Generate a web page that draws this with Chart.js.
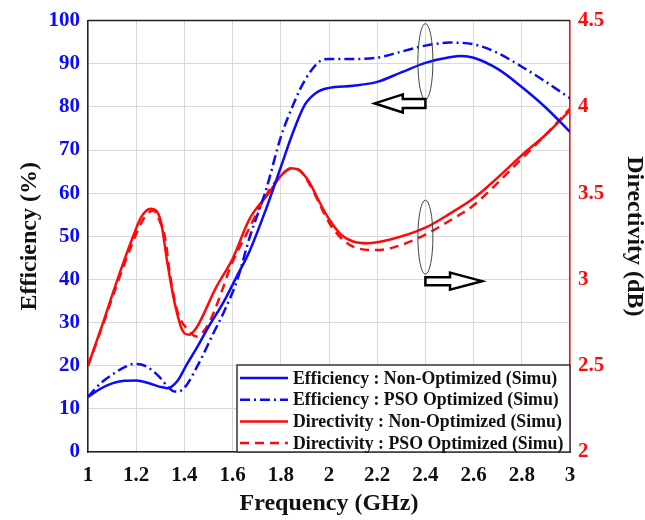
<!DOCTYPE html>
<html>
<head>
<meta charset="utf-8">
<script src="https://cdn.jsdelivr.net/npm/chart.js@4.4.1/dist/chart.umd.min.js"></script>
<style>
  body { margin: 0; background: #fff; }
  #wrap { width: 645px; height: 520px; }
</style>
</head>
<body>
<div id="wrap"><canvas id="effChart" width="645" height="520"></canvas></div>
<script>
// Frequency points (GHz) and values
const effNonFreq = [1.00, 1.05, 1.10, 1.15, 1.20, 1.25, 1.30, 1.33, 1.37, 1.41, 1.45, 1.50, 1.56, 1.62, 1.67, 1.74, 1.80, 1.85, 1.90, 1.95, 2.00, 2.10, 2.20, 2.30, 2.40, 2.50, 2.55, 2.60, 2.70, 2.80, 2.90, 3.00];
const effNon = [12.8, 14.6, 15.9, 16.5, 16.6, 16.0, 15.1, 14.8, 16.4, 20.3, 24.0, 29.0, 34.5, 41.0, 46.5, 56.5, 66.0, 74.0, 80.5, 83.4, 84.4, 84.9, 85.8, 88.0, 90.2, 91.5, 91.8, 91.4, 88.8, 84.6, 79.8, 74.2];

const effPsoFreq = [1.00, 1.05, 1.10, 1.15, 1.19, 1.22, 1.26, 1.30, 1.33, 1.36, 1.38, 1.41, 1.45, 1.48, 1.52, 1.56, 1.62, 1.67, 1.74, 1.80, 1.85, 1.90, 1.96, 2.00, 2.10, 2.20, 2.30, 2.40, 2.50, 2.60, 2.70, 2.80, 2.90, 3.00];
const effPso = [12.8, 15.8, 17.9, 19.6, 20.4, 20.3, 19.2, 17.2, 15.2, 14.0, 14.1, 15.6, 19.5, 22.8, 27.5, 32.0, 40.0, 49.6, 61.0, 73.0, 80.3, 86.2, 90.5, 91.1, 91.1, 91.4, 92.8, 94.2, 94.9, 94.5, 92.5, 89.3, 85.8, 82.0];

const dirNonFreq = [1.00, 1.06, 1.12, 1.19, 1.22, 1.26, 1.30, 1.33, 1.36, 1.39, 1.42, 1.45, 1.53, 1.60, 1.67, 1.75, 1.80, 1.84, 1.88, 1.92, 1.96, 2.00, 2.05, 2.10, 2.16, 2.25, 2.40, 2.50, 2.60, 2.70, 2.80, 2.90, 3.00];
const dirNon = [2.50, 2.74, 2.99, 3.26, 3.36, 3.41, 3.35, 3.09, 2.86, 2.71, 2.68, 2.72, 2.95, 3.12, 3.35, 3.50, 3.60, 3.645, 3.63, 3.56, 3.45, 3.35, 3.26, 3.22, 3.21, 3.23, 3.30, 3.38, 3.47, 3.59, 3.72, 3.84, 3.98];

const dirPsoFreq = [1.00, 1.06, 1.12, 1.19, 1.23, 1.27, 1.30, 1.32, 1.34, 1.37, 1.42, 1.45, 1.48, 1.51, 1.56, 1.59, 1.66, 1.74, 1.80, 1.85, 1.88, 1.92, 1.96, 2.00, 2.05, 2.10, 2.20, 2.30, 2.40, 2.50, 2.60, 2.70, 2.80, 2.90, 3.00];
const dirPso = [2.50, 2.73, 2.97, 3.23, 3.35, 3.40, 3.33, 3.24, 3.03, 2.82, 2.70, 2.67, 2.70, 2.77, 2.95, 3.07, 3.27, 3.49, 3.60, 3.645, 3.63, 3.55, 3.44, 3.33, 3.24, 3.19, 3.17, 3.20, 3.26, 3.34, 3.43, 3.56, 3.70, 3.84, 3.99];

const seriesLabels = [
  "Efficiency : Non-Optimized (Simu)",
  "Efficiency : PSO Optimized (Simu)",
  "Directivity : Non-Optimized (Simu)",
  "Directivity : PSO Optimized (Simu)"
];

const BLUE = "#0a0aff";
const RED = "#ff0a0a";
const SERIF = "'Liberation Serif', 'Times New Roman', serif";

function pairs(xs, ys) {
  return xs.map((x, i) => ({ x: x, y: ys[i] }));
}

function fmt(v) {
  return String(Math.round(v * 10) / 10);
}

// legend box in the lower right corner of the plot
const boxLegend = {
  id: "boxLegend",
  afterDatasetsDraw(chart) {
    const ctx = chart.ctx;
    const area = chart.chartArea;
    const w = 333, h = 87;
    const left = area.right - w, top = area.bottom - h;
    ctx.save();
    ctx.fillStyle = "#fff";
    ctx.fillRect(left, top, w, h);
    ctx.strokeStyle = "#333";
    ctx.lineWidth = 1.5;
    ctx.strokeRect(left, top, w, h);
    ctx.font = "bold 17.8px " + SERIF;
    ctx.textBaseline = "middle";
    chart.data.datasets.forEach((ds, i) => {
      const y = top + 13 + i * 21.7;
      ctx.strokeStyle = ds.borderColor;
      ctx.lineWidth = 2.5;
      ctx.setLineDash(ds.borderDash || []);
      ctx.beginPath();
      ctx.moveTo(left + 3, y);
      ctx.lineTo(left + 51, y);
      ctx.stroke();
      ctx.setLineDash([]);
      ctx.fillStyle = "#111";
      ctx.fillText(ds.label, left + 56, y + 1);
    });
    ctx.restore();
  }
};

// top frame line, ellipses and arrows
const marks = {
  id: "marks",
  afterDatasetsDraw(chart) {
    const ctx = chart.ctx;
    const area = chart.chartArea;
    const sx = chart.scales.x, sy = chart.scales.y, sy1 = chart.scales.y1;
    ctx.save();
    ctx.strokeStyle = "#222";
    ctx.lineWidth = 1.5;
    ctx.beginPath();
    ctx.moveTo(area.left, area.top);
    ctx.lineTo(area.right, area.top);
    ctx.stroke();

    const cx = sx.getPixelForValue(2.4);
    ctx.strokeStyle = "#444";
    ctx.lineWidth = 1;
    ctx.beginPath();
    ctx.ellipse(cx, sy.getPixelForValue(90.5), 7.5, 38, 0, 0, Math.PI * 2);
    ctx.stroke();
    ctx.beginPath();
    ctx.ellipse(cx, sy1.getPixelForValue(3.245), 7.5, 37, 0, 0, Math.PI * 2);
    ctx.stroke();

    ctx.strokeStyle = "#000";
    ctx.fillStyle = "#fff";
    ctx.lineWidth = 2.5;
    ctx.lineJoin = "miter";
    // left-pointing arrow
    let ay = sy.getPixelForValue(80.8);
    let tip = sx.getPixelForValue(2.19);
    ctx.beginPath();
    ctx.moveTo(tip, ay);
    ctx.lineTo(tip + 28, ay - 9);
    ctx.lineTo(tip + 28, ay - 4.5);
    ctx.lineTo(cx, ay - 4.5);
    ctx.lineTo(cx, ay + 4.5);
    ctx.lineTo(tip + 28, ay + 4.5);
    ctx.lineTo(tip + 28, ay + 9);
    ctx.closePath();
    ctx.fill();
    ctx.stroke();
    // right-pointing arrow
    ay = sy1.getPixelForValue(2.99);
    tip = sx.getPixelForValue(2.635);
    ctx.beginPath();
    ctx.moveTo(tip, ay);
    ctx.lineTo(tip - 32, ay - 8.5);
    ctx.lineTo(tip - 32, ay - 4);
    ctx.lineTo(cx, ay - 4);
    ctx.lineTo(cx, ay + 4);
    ctx.lineTo(tip - 32, ay + 4);
    ctx.lineTo(tip - 32, ay + 8.5);
    ctx.closePath();
    ctx.fill();
    ctx.stroke();
    ctx.restore();
  }
};

const ctx = document.getElementById("effChart").getContext("2d");
new Chart(ctx, {
  type: "line",
  data: {
    datasets: [
      {
        label: seriesLabels[0],
        data: pairs(effNonFreq, effNon),
        borderColor: BLUE,
        yAxisID: "y"
      },
      {
        label: seriesLabels[1],
        data: pairs(effPsoFreq, effPso),
        borderColor: BLUE,
        borderDash: [10, 4, 2, 4],
        yAxisID: "y"
      },
      {
        label: seriesLabels[2],
        data: pairs(dirNonFreq, dirNon),
        borderColor: RED,
        yAxisID: "y1"
      },
      {
        label: seriesLabels[3],
        data: pairs(dirPsoFreq, dirPso),
        borderColor: RED,
        borderDash: [9, 6],
        yAxisID: "y1"
      }
    ]
  },
  options: {
    responsive: false,
    animation: false,
    layout: { padding: { top: 18, left: 0, right: 0, bottom: 0 } },
    elements: {
      point: { radius: 0 },
      line: { borderWidth: 2.5, tension: 0.4, cubicInterpolationMode: "monotone", fill: false }
    },
    plugins: {
      legend: { display: false },
      tooltip: { enabled: false }
    },
    scales: {
      x: {
        type: "linear",
        min: 1,
        max: 3,
        afterFit(scale) { scale.height = 68; },
        ticks: {
          stepSize: 0.2,
          padding: 11,
          color: "#111",
          font: { family: SERIF, size: 21, weight: "bold" },
          callback: fmt
        },
        grid: { color: "#d9d9d9", drawTicks: false },
        border: { color: "#222", width: 1.5 },
        title: {
          display: true,
          text: "Frequency (GHz)",
          color: "#111",
          padding: { top: 0, bottom: 2 },
          font: { family: SERIF, size: 24, weight: "bold" }
        }
      },
      y: {
        position: "left",
        min: 0,
        max: 100,
        afterFit(scale) { scale.width = 88; },
        ticks: {
          stepSize: 10,
          padding: 8,
          color: BLUE,
          font: { family: SERIF, size: 21, weight: "bold" },
          callback: fmt
        },
        grid: { color: "#d9d9d9", drawTicks: false },
        border: { color: "#222", width: 1.5 },
        title: {
          display: true,
          text: "Efficiency (%)",
          color: "#111",
          padding: { top: 15, bottom: 0 },
          font: { family: SERIF, size: 24, weight: "bold" }
        }
      },
      y1: {
        position: "right",
        min: 2,
        max: 4.5,
        afterFit(scale) { scale.width = 75; },
        ticks: {
          stepSize: 0.5,
          padding: 8,
          color: RED,
          font: { family: SERIF, size: 21, weight: "bold" },
          callback: fmt
        },
        grid: { drawOnChartArea: false, drawTicks: false },
        border: { color: RED, width: 1.5 },
        title: {
          display: true,
          text: "Directivity (dB)",
          color: "#111",
          padding: { top: 0, bottom: 0 },
          font: { family: SERIF, size: 24, weight: "bold", lineHeight: 0.9 }
        }
      }
    }
  },
  plugins: [marks, boxLegend]
});
</script>
</body>
</html>
